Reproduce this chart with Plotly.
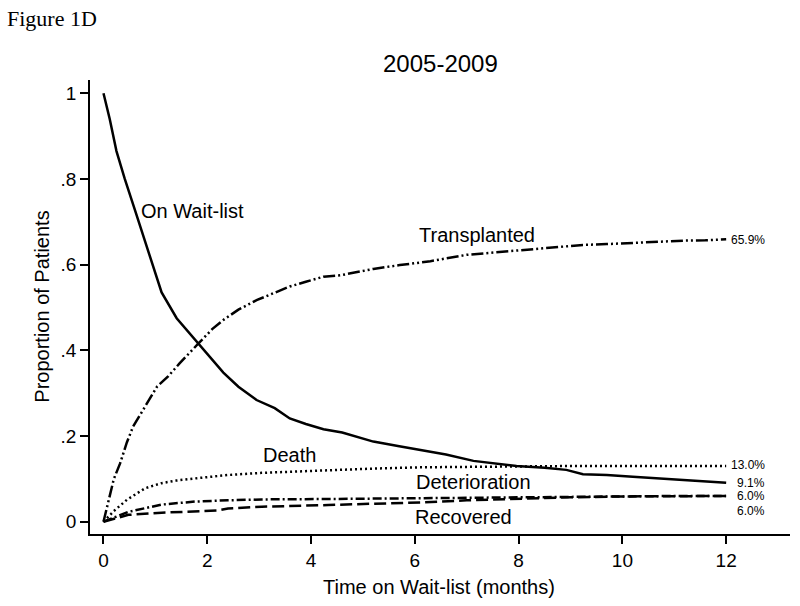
import plotly.graph_objects as go

# ---- data ----
wait_t = [0, 0.06, 0.12, 0.25, 0.41, 0.61, 0.8, 0.96, 1.12, 1.41, 1.83, 2.1, 2.31, 2.6, 2.95, 3.3, 3.59,
          3.9, 4.24, 4.6, 5.2, 5.7, 6.16, 6.6, 7.13, 7.5, 7.96, 8.5, 8.92, 9.24, 9.7, 10.2, 10.8, 11.4, 12]
wait_y = [1.0, 0.97, 0.94, 0.865, 0.80, 0.726, 0.655, 0.59, 0.535, 0.475, 0.416, 0.378, 0.348, 0.315,
          0.284, 0.265, 0.241, 0.228, 0.216, 0.208, 0.187, 0.176, 0.167, 0.157, 0.142, 0.136, 0.130,
          0.126, 0.121, 0.111, 0.109, 0.105, 0.100, 0.096, 0.091]

tx_t = [0, 0.1, 0.2, 0.32, 0.45, 0.57, 0.8, 1.03, 1.25, 1.47, 1.83, 2.1, 2.31, 2.6, 2.95, 3.3, 3.59,
        3.9, 4.24, 4.56, 5.2, 5.71, 6.3, 7.0, 7.5, 7.96, 8.41, 9.24, 9.7, 10.2, 10.7, 11.17, 11.6, 12]
tx_y = [0, 0.05, 0.10, 0.136, 0.185, 0.222, 0.27, 0.315, 0.34, 0.37, 0.416, 0.45, 0.471, 0.495, 0.517,
        0.535, 0.549, 0.56, 0.572, 0.575, 0.59, 0.599, 0.608, 0.623, 0.628, 0.634, 0.638, 0.646, 0.648,
        0.651, 0.653, 0.656, 0.657, 0.659]

death_t = [0, 0.2, 0.45, 0.8, 1.12, 1.4, 1.76, 2.4, 3.05, 3.6, 4.33, 5.2, 6.13, 7, 8, 9, 10, 11, 12]
death_y = [0, 0.025, 0.051, 0.078, 0.090, 0.096, 0.101, 0.109, 0.114, 0.117, 0.121, 0.124, 0.127,
           0.128, 0.130, 0.130, 0.130, 0.130, 0.130]

det_t = [0, 0.48, 1.12, 1.76, 2.4, 3.05, 4.33, 5.2, 6.13, 7, 8, 9, 10, 11, 12]
det_y = [0, 0.023, 0.040, 0.047, 0.050, 0.052, 0.053, 0.054, 0.055, 0.056, 0.057, 0.058, 0.059, 0.060, 0.060]

rec_t = [0, 0.48, 1.12, 1.76, 2.2, 2.4, 3.05, 4.33, 5.2, 6.13, 7, 8, 9, 10, 11, 12]
rec_y = [0, 0.016, 0.021, 0.024, 0.026, 0.031, 0.035, 0.039, 0.042, 0.045, 0.050, 0.054, 0.057,
         0.059, 0.060, 0.060]

x_ticks = [0, 2, 4, 6, 8, 10, 12]
y_ticks = [0, 0.2, 0.4, 0.6, 0.8, 1.0]
y_ticktext = ["0", ".2", ".4", ".6", ".8", "1"]

series_labels = ["On Wait-list", "Transplanted", "Death", "Deterioration", "Recovered"]
label_x = [1.72, 7.2, 3.58, 7.13, 6.94]
label_y = [0.725, 0.669, 0.156, 0.093, 0.012]

end_text = ["65.9%", "13.0%", "9.1%", "6.0%", "6.0%"]
end_y = [0.657, 0.132, 0.091, 0.060, 0.025]
end_x = 12.78

FONT = "Liberation Sans, Arial, sans-serif"
SERIF = "Liberation Serif, Times New Roman, serif"

# the page's body margin is removed (post_script below), so figure pixels == page pixels
W, H = 800, 606
pl, pt = 90, 80
pr = W - 790
pb = H - 534

fig = go.Figure()
lw = 2.5
fig.add_trace(go.Scatter(x=wait_t, y=wait_y, mode="lines",
                         line=dict(color="black", width=lw)))
fig.add_trace(go.Scatter(x=tx_t, y=tx_y, mode="lines",
                         line=dict(color="black", width=lw, dash="12px,3px,2px,3px,2px,3px")))
fig.add_trace(go.Scatter(x=death_t, y=death_y, mode="lines",
                         line=dict(color="black", width=lw, dash="2px,3px")))
fig.add_trace(go.Scatter(x=det_t, y=det_y, mode="lines",
                         line=dict(color="black", width=lw, dash="9px,3px,2px,3px")))
fig.add_trace(go.Scatter(x=rec_t, y=rec_y, mode="lines",
                         line=dict(color="black", width=lw, dash="12px,5px")))

ann = []
for txt, x, y in zip(series_labels, label_x, label_y):
    ann.append(dict(x=x, y=y, xref="x", yref="y", text=txt, showarrow=False,
                    font=dict(family=FONT, size=20, color="black"),
                    xanchor="center", yanchor="middle"))
for txt, y in zip(end_text, end_y):
    ann.append(dict(x=end_x, y=y, xref="x", yref="y", text=txt, showarrow=False,
                    font=dict(family=FONT, size=12, color="black"),
                    xanchor="right", yanchor="middle"))


def page_ann(text, px_x, px_y, size, family, xanchor="center", angle=0):
    # px_x / px_y are page pixel positions in the reference
    return dict(x=(px_x - pl) / (W - pl - pr), y=(H - pb - px_y) / (H - pt - pb),
                xref="paper", yref="paper", text=text, showarrow=False, textangle=angle,
                font=dict(family=family, size=size, color="black"),
                xanchor=xanchor, yanchor="middle")


ann.append(page_ann("Proportion of Patients", 41.7, 307, 20, FONT, angle=-90))
ann.append(page_ann("Time on Wait-list (months)", 439, 587, 20, FONT))
ann.append(page_ann("Figure 1D", 5, 18, 22, SERIF, xanchor="left"))
ann.append(page_ann("2005-2009", 440.5, 64, 24, FONT))

fig.update_layout(
    width=W, height=H,
    margin=dict(l=pl, r=pr, t=pt, b=pb, pad=0),
    paper_bgcolor="white", plot_bgcolor="white",
    showlegend=False,
    annotations=ann,
    xaxis=dict(range=[-0.26, 13.23], tickvals=x_ticks, ticks="outside", ticklen=8, tickwidth=1.5,
               tickcolor="black", showline=True, linecolor="black", linewidth=1.5, showgrid=False,
               zeroline=False, automargin=False, tickfont=dict(family=FONT, size=19, color="black")),
    yaxis=dict(range=[-0.0287, 1.031], tickvals=y_ticks, ticktext=y_ticktext, ticks="outside",
               ticklen=8, tickwidth=1.5, tickcolor="black", showline=True, linecolor="black",
               linewidth=1.5, showgrid=False, zeroline=False, automargin=False,
               tickfont=dict(family=FONT, size=19, color="black")),
)

fig.write_html("out.html", config={"displayModeBar": False},
               post_script="document.body.style.margin='0';")
